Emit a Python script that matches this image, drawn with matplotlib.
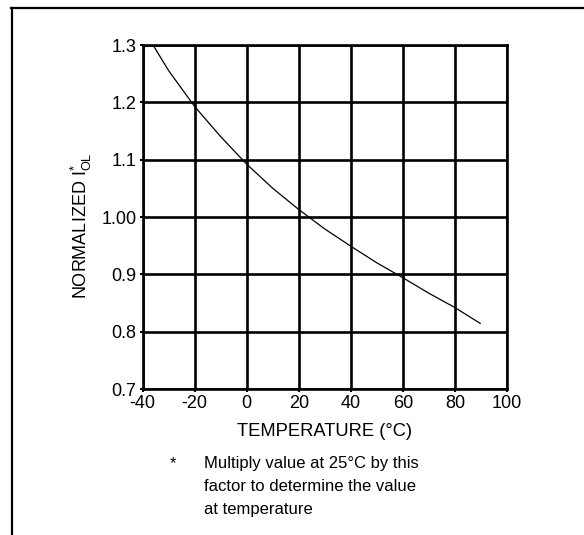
import matplotlib
matplotlib.use("Agg")
import matplotlib.pyplot as plt
from matplotlib.lines import Line2D

plt.rcParams['font.family'] = ['Liberation Sans', 'DejaVu Sans']
plt.rcParams['axes.unicode_minus'] = False
plt.rcParams['mathtext.fontset'] = 'custom'
plt.rcParams['mathtext.rm'] = 'Liberation Sans'
plt.rcParams['mathtext.it'] = 'Liberation Sans'

# Data
temperature = [-35.5, -30, -20, -10, 0, 10, 20, 30, 40, 50, 60, 70, 80, 89.7]
normalized_iol = [1.296, 1.255, 1.1925, 1.14, 1.092, 1.05, 1.013, 0.979,
                  0.949, 0.920, 0.894, 0.867, 0.842, 0.8145]

x_ticks = [-40, -20, 0, 20, 40, 60, 80, 100]
x_tick_labels = ['-40', '-20', '0', '20', '40', '60', '80', '100']
y_ticks = [0.7, 0.8, 0.9, 1.0, 1.1, 1.2, 1.3]
y_tick_labels = ['0.7', '0.8', '0.9', '1.00', '1.1', '1.2', '1.3']

W, H = 584, 535
fig = plt.figure(figsize=(W / 100, H / 100), dpi=100)
ax = fig.add_axes([142.7 / W, 1 - 389 / H, (507 - 142.7) / W, (389 - 45) / H])

ax.plot(temperature, normalized_iol, color='black', lw=0.9)
ax.set_xlim(-40, 100)
ax.set_ylim(0.7, 1.3)
ax.set_xticks(x_ticks)
ax.set_xticklabels(x_tick_labels)
ax.set_yticks(y_ticks)
ax.set_yticklabels(y_tick_labels)
ax.tick_params(length=2, width=1.5, labelsize=13, pad=2.5, colors='black')
ax.grid(True, color='black', lw=1.9)
for s in ax.spines.values():
    s.set_linewidth(1.9)

fig.text(325 / W, 1 - 431 / H, 'TEMPERATURE (°C)', ha='center', va='center', fontsize=13.2)
fig.text(81 / W, 1 - 226 / H, r'NORMALIZED I$_{\mathrm{OL}}^{*}$', rotation=90,
         ha='center', va='center', fontsize=13)

fig.text(173 / W, 1 - 456 / H, '*', ha='center', va='top', fontsize=12)
fig.text(204 / W, 1 - 456 / H,
         'Multiply value at 25°C by this\nfactor to determine the value\nat temperature',
         ha='left', va='top', fontsize=12, linespacing=1.65)

# Outer frame (top and left)
fig.add_artist(Line2D([11 / W, 1.0], [1 - 8 / H, 1 - 8 / H], color='black', lw=1.6,
                      transform=fig.transFigure))
fig.add_artist(Line2D([12 / W, 12 / W], [0.0, 1 - 8 / H], color='black', lw=1.6,
                      transform=fig.transFigure))

fig.savefig('out.png', dpi=100)
